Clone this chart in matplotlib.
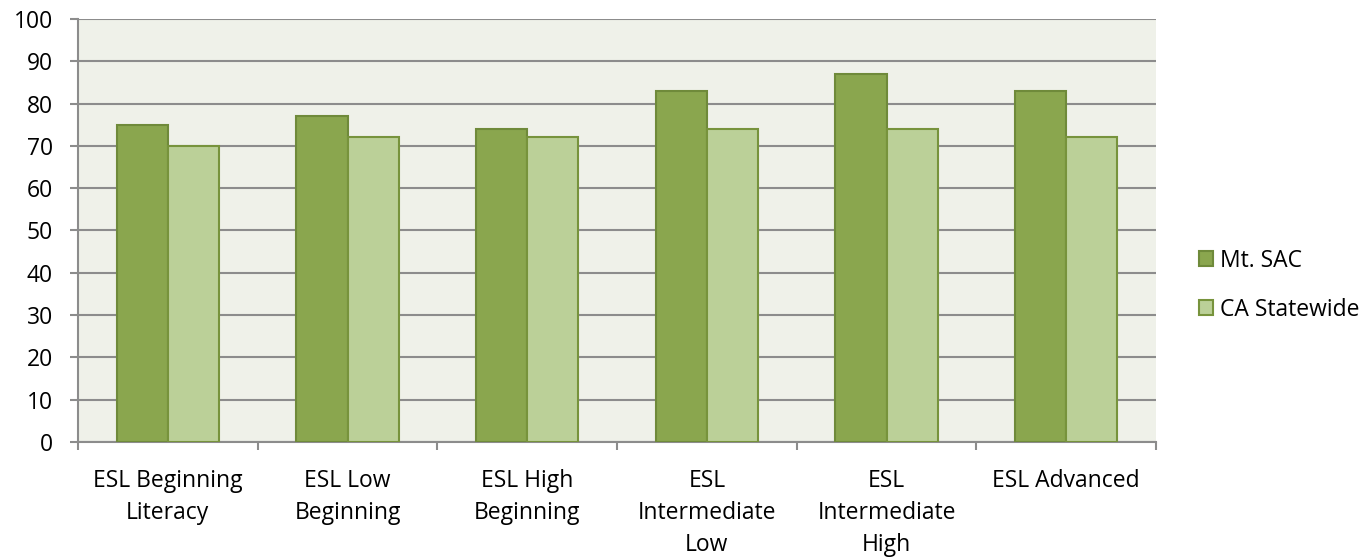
import matplotlib
matplotlib.use("Agg")
import matplotlib.pyplot as plt
import numpy as np

categories = ["ESL Beginning\nLiteracy", "ESL Low\nBeginning", "ESL High\nBeginning",
              "ESL\nIntermediate\nLow", "ESL\nIntermediate\nHigh", "ESL Advanced"]
mt_sac = [75, 77, 74, 83, 87, 83]
ca_statewide = [70, 72, 72, 74, 74, 72]
series_names = ["Mt. SAC", "CA Statewide"]
y_ticks = list(range(0, 101, 10))

plt.rcParams['font.family'] = ['Open Sans', 'DejaVu Sans']
fs = 16.5

fig = plt.figure(figsize=(13.69, 5.58), dpi=100)
ax = fig.add_axes([0.057, 0.208, 0.7875, 0.758])
ax.set_facecolor("#EFF1E9")

x = np.arange(len(categories))
w = 0.285
ax.bar(x - w / 2, mt_sac, w, color="#8AA64E", edgecolor="#6F8A3A", linewidth=1.5,
       label=series_names[0], zorder=3)
ax.bar(x + w / 2, ca_statewide, w, color="#BBD098", edgecolor="#77933C", linewidth=1.5,
       label=series_names[1], zorder=3)

ax.set_xlim(-0.5, len(categories) - 0.5)
ax.set_ylim(0, 100)
ax.set_yticks(y_ticks)
ax.yaxis.grid(True, color="#8C8C8C", linewidth=1.5, zorder=1)
ax.set_axisbelow(True)

ax.set_xticks(x)
ax.set_xticklabels(categories, fontsize=fs, linespacing=1.45, va="top")
ax.tick_params(axis="x", length=0, pad=19.5)
ax.set_xticks(np.arange(len(categories) + 1) - 0.5, minor=True)
ax.tick_params(axis="x", which="minor", length=6, width=1.5, color="#8C8C8C", direction="out")
ax.tick_params(axis="y", length=6, width=1.5, color="#8C8C8C", labelsize=fs, pad=12)

for s in ["top", "right"]:
    ax.spines[s].set_visible(False)
for s in ["left", "bottom"]:
    ax.spines[s].set_color("#8C8C8C")
    ax.spines[s].set_linewidth(1.5)

leg = fig.legend(loc="center left", bbox_to_anchor=(0.861, 0.489), frameon=False,
                 fontsize=fs, handlelength=0.6, handleheight=0.6, handletextpad=0.3,
                 labelspacing=1.1)

fig.savefig("out.png", dpi=100)
